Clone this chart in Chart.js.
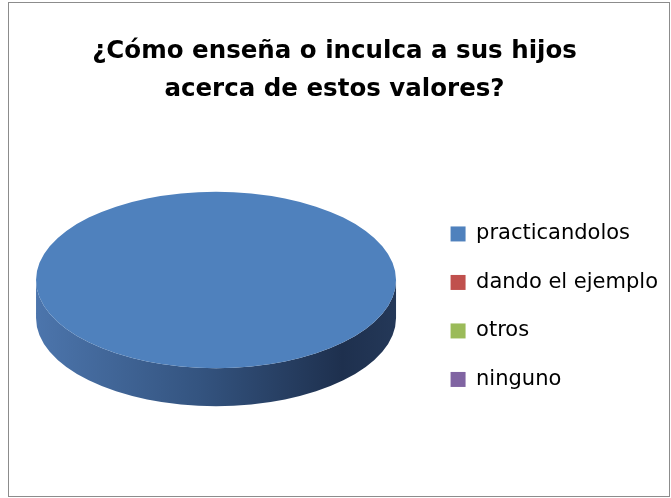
<!DOCTYPE html>
<html>
<head>
<meta charset="utf-8">
<script src="https://cdn.jsdelivr.net/npm/chart.js@4.4.1/dist/chart.umd.min.js"></script>
<style>
  html, body { margin: 0; padding: 0; background: #fff; }
  #frame {
    position: absolute; left: 8px; top: 2px;
    width: 662px; height: 495px;
    box-sizing: border-box;
    border: 1px solid #8c8c8c;
    background: #fff;
  }
  #chart { display: block; }
</style>
</head>
<body>
<div id="frame"><canvas id="chart"></canvas></div>
<script>
  // Chart data
  const categories = ['practicandolos', 'dando el ejemplo', 'otros', 'ninguno'];
  const counts = [100, 0, 0, 0];
  const sliceColors = ['#4f81bd', '#c0504d', '#9bbb59', '#8064a2'];
  const titleLines = ['¿Cómo enseña o inculca a sus hijos', 'acerca de estos valores?'];

  // Flatten the pie into an ellipse and give it a thick side wall
  const tilt = 0.49;
  const depth = 38;

  const pie3d = {
    id: 'pie3d',
    beforeDatasetsDraw(chart) {
      const ctx = chart.ctx;
      const meta = chart.getDatasetMeta(0);
      const first = meta.data[0];
      if (!first) return;
      const cx = first.x, cy = first.y, r = first.outerRadius;
      const yc = cy - depth / 2;

      // side wall of each slice, only the front half is visible
      meta.data.forEach((arc, i) => {
        const p = arc.getProps(['startAngle', 'endAngle'], true);
        if (p.endAngle - p.startAngle <= 0) return;
        [-2 * Math.PI, 0, 2 * Math.PI].forEach(shift => {
          const a0 = Math.max(p.startAngle, shift);
          const a1 = Math.min(p.endAngle, shift + Math.PI);
          if (a1 <= a0) return;
          const grad = ctx.createLinearGradient(cx - r, 0, cx + r, 0);
          grad.addColorStop(0, 'rgb(76,117,172)');
          grad.addColorStop(0.45, 'rgb(52,84,128)');
          grad.addColorStop(0.85, 'rgb(30,48,78)');
          grad.addColorStop(1, 'rgb(36,56,88)');
          ctx.save();
          ctx.beginPath();
          ctx.ellipse(cx, yc, r, r * tilt, 0, a0, a1);
          ctx.ellipse(cx, yc + depth, r, r * tilt, 0, a1, a0, true);
          ctx.closePath();
          ctx.fillStyle = grad;
          ctx.fill();
          ctx.restore();
        });
      });

      ctx.save();
      ctx.translate(cx, yc);
      ctx.scale(1, tilt);
      ctx.translate(-cx, -cy);
    },
    afterDatasetsDraw(chart) {
      if (chart.getDatasetMeta(0).data[0]) chart.ctx.restore();
    }
  };

  new Chart(document.getElementById('chart'), {
    type: 'pie',
    data: {
      labels: categories,
      datasets: [{
        data: counts,
        backgroundColor: sliceColors,
        borderWidth: 0,
        radius: 180
      }]
    },
    options: {
      responsive: true,
      maintainAspectRatio: false,
      animation: false,
      layout: { padding: { left: -8, right: 1, top: 0, bottom: 16 } },
      plugins: {
        title: {
          display: true,
          text: titleLines,
          color: '#000',
          font: { family: 'DejaVu Sans', size: 24.5, weight: 'bold', lineHeight: 1.55 },
          padding: { top: 30, bottom: 9 }
        },
        legend: {
          position: 'right',
          title: { display: true, text: '', padding: { top: 116, bottom: 0 } },
          labels: {
            color: '#000',
            font: { family: 'DejaVu Sans', size: 21 },
            boxWidth: 15,
            boxHeight: 15,
            padding: 27.5
          }
        },
        tooltip: { enabled: false }
      }
    },
    plugins: [pie3d]
  });
</script>
</body>
</html>
